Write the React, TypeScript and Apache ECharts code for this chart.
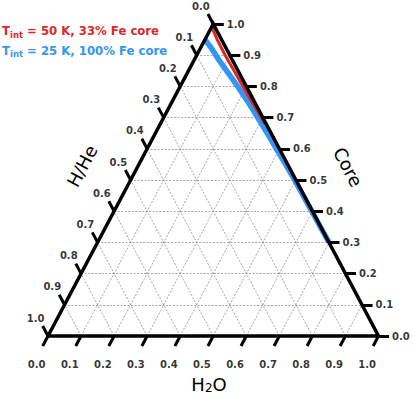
import React, { useEffect, useRef } from 'react';
import * as echarts from 'echarts';

// ---- data ----
const TICK_VALUES = [0, 0.1, 0.2, 0.3, 0.4, 0.5, 0.6, 0.7, 0.8, 0.9, 1.0];
const TICK_LABELS = ['0.0', '0.1', '0.2', '0.3', '0.4', '0.5', '0.6', '0.7', '0.8', '0.9', '1.0'];
const GRID_LEVELS = [0.1, 0.2, 0.3, 0.4, 0.5, 0.6, 0.7, 0.8, 0.9];

// red: T_int = 50 K, 33% Fe core  (core fraction, H/He fraction)
const RED_CORE = [0.985, 0.95, 0.9, 0.85, 0.8, 0.75, 0.7, 0.68];
const RED_HHE = [0.01, 0.013, 0.014, 0.012, 0.01, 0.008, 0.005, 0.004];
// blue: T_int = 25 K, 100% Fe core
const BLUE_CORE = [0.95, 0.92, 0.88, 0.84, 0.8, 0.76, 0.72, 0.68, 0.64, 0.6, 0.55, 0.5, 0.45, 0.4, 0.35, 0.3];
const BLUE_HHE = [0.05, 0.044, 0.04, 0.033, 0.026, 0.021, 0.017, 0.014, 0.011, 0.009, 0.006, 0.004, 0.003, 0.002, 0.001, 0.0];

const RED = '#dc2828';
const BLUE = '#3396f5';

// ---- layout ----
const W = 415;
const H = 395;
const PX_LEFT = 48;
const PX_RIGHT = 378.5;
const PX_TOP = 24;
const PX_BOTTOM = 336;
const TICK_LEN = 0.032;

// ternary (H/He = a, Core = c) -> cartesian
function tern(a: number, c: number): number[] {
  const b = 1 - a - c;
  return [b + c / 2, c];
}

function buildOption() {
  const sx = PX_RIGHT - PX_LEFT;
  const sy = PX_BOTTOM - PX_TOP;
  const xMin = -PX_LEFT / sx;
  const xMax = 1 + (W - PX_RIGHT) / sx;
  const yMin = -(H - PX_BOTTOM) / sy;
  const yMax = 1 + PX_TOP / sy;

  const gridLines: any[] = [];
  GRID_LEVELS.forEach((L) => {
    gridLines.push({ coords: [tern(1 - L, L), tern(0, L)] }); // const core
    gridLines.push({ coords: [tern(1 - L, 0), tern(0, 1 - L)] }); // const H2O
    gridLines.push({ coords: [tern(L, 0), tern(L, 1 - L)] }); // const H/He
  });

  const ticks: any[] = [];
  const bottomLabels: any[] = [];
  const leftLabels: any[] = [];
  const rightLabels: any[] = [];
  TICK_VALUES.forEach((v, i) => {
    // bottom: H2O
    const bb = tern(1 - v, 0);
    const be = [bb[0] - TICK_LEN / 2, bb[1] - TICK_LEN];
    ticks.push({ coords: [bb, be] });
    bottomLabels.push({ value: be, name: TICK_LABELS[i] });
    // right: Core
    const rb = tern(0, v);
    const re = [rb[0] + TICK_LEN, rb[1]];
    ticks.push({ coords: [rb, re] });
    rightLabels.push({ value: re, name: TICK_LABELS[i] });
    // left: H/He
    const lb = tern(v, 1 - v);
    const le = [lb[0] - TICK_LEN / 2, lb[1] + TICK_LEN];
    ticks.push({ coords: [lb, le] });
    leftLabels.push({ value: le, name: TICK_LABELS[i] });
  });

  const triangle = [tern(1, 0), tern(0, 0), tern(0, 1), tern(1, 0)];
  const redData = RED_CORE.map((c, i) => tern(RED_HHE[i], c));
  const blueData = BLUE_CORE.map((c, i) => tern(BLUE_HHE[i], c));

  const labelFont = {
    fontFamily: 'DejaVu Sans',
    fontWeight: 'bold' as const,
    fontSize: 10,
    color: '#000',
  };

  const legendRich = (color: string) => ({
    t: { fontFamily: 'DejaVu Sans', fontWeight: 'bold', fontSize: 11.7, fill: color, lineHeight: 14 },
    s: { fontFamily: 'DejaVu Sans', fontWeight: 'bold', fontSize: 8.5, fill: color, padding: [7, 0, 0, 0], lineHeight: 9 },
  });

  return {
    animation: false,
    grid: { left: 0, right: 0, top: 0, bottom: 0, containLabel: false, outerBoundsMode: 'none' },
    xAxis: { type: 'value', min: xMin, max: xMax, show: false },
    yAxis: { type: 'value', min: yMin, max: yMax, show: false },
    series: [
      {
        type: 'lines',
        coordinateSystem: 'cartesian2d',
        silent: true,
        z: 1,
        lineStyle: { color: '#808080', width: 0.7, type: [2, 1.5], opacity: 1 },
        data: gridLines,
      },
      {
        type: 'line',
        data: blueData,
        showSymbol: false,
        clip: false,
        z: 2,
        lineStyle: { color: BLUE, width: 5.5 },
        silent: true,
      },
      {
        type: 'line',
        data: redData,
        showSymbol: false,
        clip: false,
        z: 3,
        lineStyle: { color: RED, width: 3 },
        silent: true,
      },
      {
        type: 'lines',
        coordinateSystem: 'cartesian2d',
        silent: true,
        z: 4,
        lineStyle: { color: '#000', width: 3, opacity: 1, cap: 'butt' },
        data: ticks,
      },
      {
        type: 'line',
        data: triangle,
        showSymbol: false,
        clip: false,
        z: 5,
        lineStyle: { color: '#000', width: 3.5, join: 'miter' },
        silent: true,
      },
      {
        type: 'scatter',
        data: bottomLabels,
        symbolSize: 0,
        clip: false,
        silent: true,
        label: { show: true, position: 'inside', offset: [-6, 19], formatter: '{b}', ...labelFont },
      },
      {
        type: 'scatter',
        data: leftLabels,
        symbolSize: 0,
        clip: false,
        silent: true,
        label: { show: true, position: 'inside', offset: [-7, -8], formatter: '{b}', ...labelFont },
      },
      {
        type: 'scatter',
        data: rightLabels,
        symbolSize: 0,
        clip: false,
        silent: true,
        label: { show: true, position: 'right', distance: 3, formatter: '{b}', ...labelFont },
      },
    ],
    graphic: [
      {
        type: 'text',
        left: 2,
        top: 23,
        style: { text: '{t|T}{s|int}{t| = 50 K, 33% Fe core}', rich: legendRich(RED) },
      },
      {
        type: 'text',
        left: 2,
        top: 42.5,
        style: { text: '{t|T}{s|int}{t| = 25 K, 100% Fe core}', rich: legendRich(BLUE) },
      },
      {
        type: 'text',
        x: 82,
        y: 166,
        rotation: (62 * Math.PI) / 180,
        style: {
          text: 'H/He',
          fontFamily: 'DejaVu Sans',
          fontSize: 18,
          fill: '#000',
          align: 'center',
          verticalAlign: 'middle',
        },
      },
      {
        type: 'text',
        x: 348,
        y: 167,
        rotation: (-62 * Math.PI) / 180,
        style: {
          text: 'Core',
          fontFamily: 'DejaVu Sans',
          fontSize: 18,
          fill: '#000',
          align: 'center',
          verticalAlign: 'middle',
        },
      },
      {
        type: 'text',
        x: 209,
        y: 384,
        style: {
          text: '{a|H}{s|2}{a|O}',
          align: 'center',
          verticalAlign: 'middle',
          rich: {
            a: { fontFamily: 'DejaVu Sans', fontSize: 18, fill: '#000', lineHeight: 20 },
            s: { fontFamily: 'DejaVu Sans', fontSize: 12, fill: '#000', padding: [8, 0, 0, 0], lineHeight: 12 },
          },
        },
      },
    ],
  };
}

export default function App() {
  const ref = useRef<HTMLDivElement>(null);
  useEffect(() => {
    if (!ref.current) return;
    const chart = echarts.init(ref.current, undefined, { renderer: 'svg' });
    chart.setOption(buildOption() as any);
    return () => chart.dispose();
  }, []);
  return (
    <div
      ref={ref}
      style={{ position: 'fixed', left: 0, top: 0, width: W, height: H, background: '#fff' }}
    />
  );
}
